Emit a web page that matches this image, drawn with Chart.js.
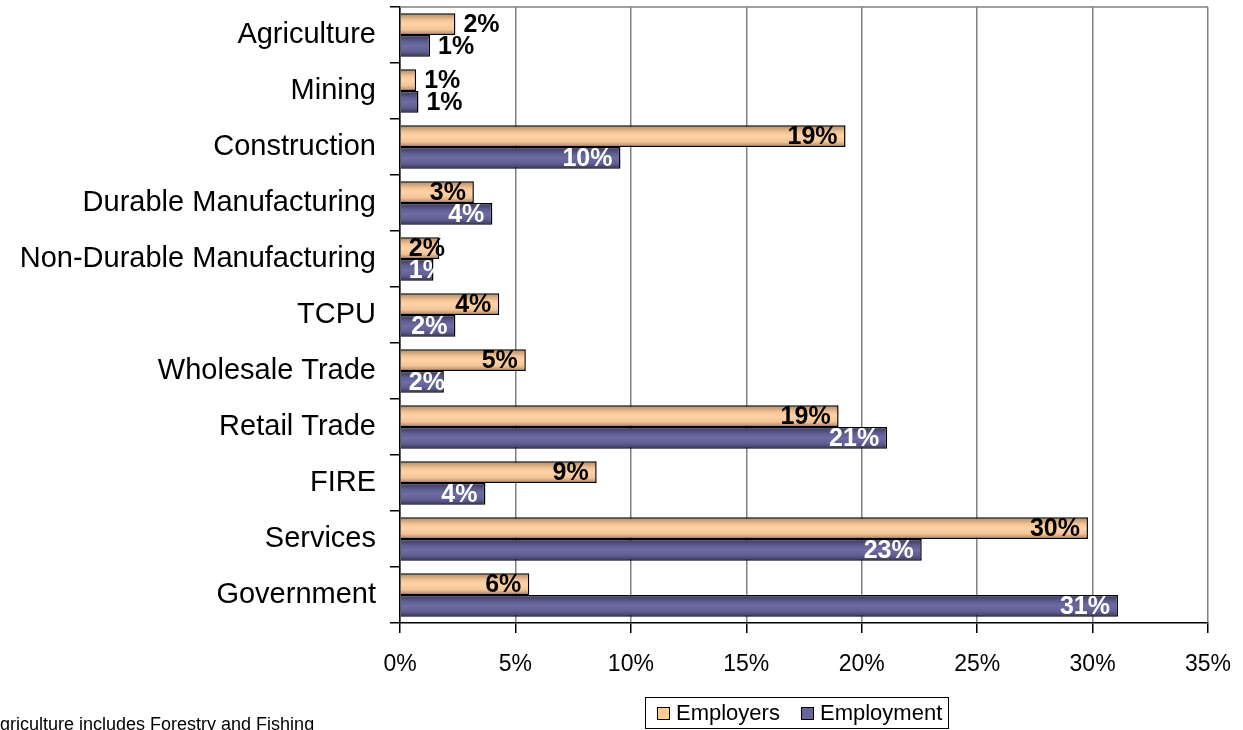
<!DOCTYPE html>
<html>
<head>
<meta charset="utf-8">
<script src="https://cdn.jsdelivr.net/npm/chart.js@4"></script>
<style>
  html, body { margin: 0; padding: 0; background: #fff; }
  #wrap { width: 1243px; height: 730px; position: relative; }
</style>
</head>
<body>
<div id="wrap"><canvas id="chart"></canvas></div>
<script>
var categories = ['Agriculture', 'Mining', 'Construction', 'Durable Manufacturing',
    'Non-Durable Manufacturing', 'TCPU', 'Wholesale Trade', 'Retail Trade',
    'FIRE', 'Services', 'Government'];
var employers  = [2.4, 0.7, 19.3, 3.2, 1.7, 4.3, 5.45, 19.0, 8.52, 29.8, 5.6];
var employment = [1.3, 0.8, 9.55, 4.0, 1.45, 2.4, 1.9, 21.1, 3.7, 22.6, 31.1];
var xTicks = [0, 5, 10, 15, 20, 25, 30, 35];
var seriesNames = ['Employers', 'Employment'];
var footnote = 'Agriculture includes Forestry and Fishing';

var FONT = '"Liberation Sans", Arial, sans-serif';
var catPct = 0.78;
// labels of these rows sit past the end of the bar
var outsideLabels = [0, 1];
var labelColors = ['#000000', '#ffffff'];
var flatColors = ['#ffcc99', '#666699'];
var stops = [
    ['#a8845e', '#f2c193', '#ffd3a8', '#f6c595', '#a98560'],
    ['#36365a', '#5e5e92', '#6c6ca2', '#5f5f93', '#383860']
];

// vertical shading across each bar, like a rounded tube
function shade(di) {
    return function (ctx) {
        var chart = ctx.chart;
        var yScale = chart.scales.y;
        if (ctx.type !== 'data' || !yScale) return flatColors[di];
        var band = (yScale.bottom - yScale.top) / categories.length;
        var thick = band * catPct / 2;
        var top = yScale.getPixelForValue(ctx.dataIndex) - band * catPct / 2 + di * thick;
        if (!isFinite(top) || !isFinite(thick) || thick <= 0) return flatColors[di];
        var g = chart.ctx.createLinearGradient(0, top, 0, top + thick);
        var s = stops[di];
        g.addColorStop(0, s[0]);
        g.addColorStop(0.3, s[1]);
        g.addColorStop(0.5, s[2]);
        g.addColorStop(0.75, s[3]);
        g.addColorStop(1, s[4]);
        return g;
    };
}

var frame = {
    id: 'frame',
    beforeDatasetsDraw: function (chart) {
        var a = chart.chartArea, c = chart.ctx;
        c.save();
        c.strokeStyle = '#808080';
        c.lineWidth = 1.5;
        c.beginPath();
        c.moveTo(a.left, a.top);
        c.lineTo(a.right, a.top);
        c.stroke();
        c.restore();
    }
};

var valueLabels = {
    id: 'valueLabels',
    afterDatasetsDraw: function (chart) {
        var c = chart.ctx;
        c.save();
        c.font = 'bold 25px ' + FONT;
        c.textBaseline = 'middle';
        c.textAlign = 'left';
        chart.data.datasets.forEach(function (ds, di) {
            chart.getDatasetMeta(di).data.forEach(function (bar, i) {
                var text = Math.round(ds.data[i]) + '%';
                var w = c.measureText(text).width;
                var p = bar.getProps(['x', 'y', 'base'], true);
                if (outsideLabels.indexOf(i) >= 0) {
                    c.fillStyle = '#000';
                    c.fillText(text, p.x + 8, p.y + 1);
                } else {
                    c.fillStyle = labelColors[di];
                    var left = Math.max(p.x - 8 - w, p.base + 8);
                    c.fillText(text, left, p.y + 1);
                }
            });
        });
        c.restore();
    }
};

var boxLegend = {
    id: 'boxLegend',
    afterDraw: function (chart) {
        var c = chart.ctx;
        c.save();
        c.strokeStyle = '#000';
        c.lineWidth = 1;
        c.strokeRect(645.5, 697.5, 303, 31);
        c.font = '22px ' + FONT;
        c.textBaseline = 'middle';
        c.fillStyle = '#000';
        var xs = [657, 801];
        seriesNames.forEach(function (name, i) {
            c.fillStyle = flatColors[i];
            c.fillRect(xs[i], 707, 13, 13);
            c.strokeRect(xs[i] + 0.5, 707.5, 12, 12);
            c.fillStyle = '#000';
            c.fillText(name, xs[i] + 19, 714);
        });
        c.font = '18px ' + FONT;
        c.textBaseline = 'alphabetic';
        c.fillText(footnote, -12, 730);
        c.restore();
    }
};

new Chart(document.getElementById('chart'), {
    type: 'bar',
    data: {
        labels: categories,
        datasets: [{
            label: seriesNames[0],
            data: employers,
            backgroundColor: shade(0),
            borderColor: '#000',
            borderWidth: 1.5
        }, {
            label: seriesNames[1],
            data: employment,
            backgroundColor: shade(1),
            borderColor: '#000',
            borderWidth: 1.5
        }]
    },
    options: {
        indexAxis: 'y',
        responsive: true,
        maintainAspectRatio: false,
        animation: false,
        datasets: {
            bar: { categoryPercentage: catPct, barPercentage: 1.0 }
        },
        layout: {
            padding: { left: 0, top: 7, right: 35, bottom: 47 }
        },
        plugins: {
            legend: { display: false },
            tooltip: { enabled: false }
        },
        scales: {
            x: {
                min: 0,
                max: 35,
                afterBuildTicks: function (scale) {
                    scale.ticks = xTicks.map(function (v) { return { value: v }; });
                },
                afterFit: function (scale) {
                    scale.height = 60;
                    scale.paddingLeft = 0;
                    scale.paddingRight = 0;
                },
                ticks: {
                    callback: function (v) { return v + '%'; },
                    color: '#000',
                    font: { family: FONT, size: 23 },
                    padding: 18
                },
                grid: {
                    color: '#808080',
                    lineWidth: 1.5,
                    tickColor: '#000',
                    tickLength: 10
                },
                border: { color: '#000', width: 1.5 }
            },
            y: {
                afterFit: function (scale) {
                    scale.width = 400;
                    scale.paddingTop = 0;
                    scale.paddingBottom = 0;
                },
                ticks: {
                    color: '#000',
                    font: { family: FONT, size: 29 },
                    padding: 14
                },
                grid: {
                    offset: true,
                    drawOnChartArea: false,
                    color: '#000',
                    lineWidth: 1.5,
                    tickLength: 10
                },
                border: { color: '#000', width: 1.5 }
            }
        }
    },
    plugins: [frame, valueLabels, boxLegend]
});
</script>
</body>
</html>
